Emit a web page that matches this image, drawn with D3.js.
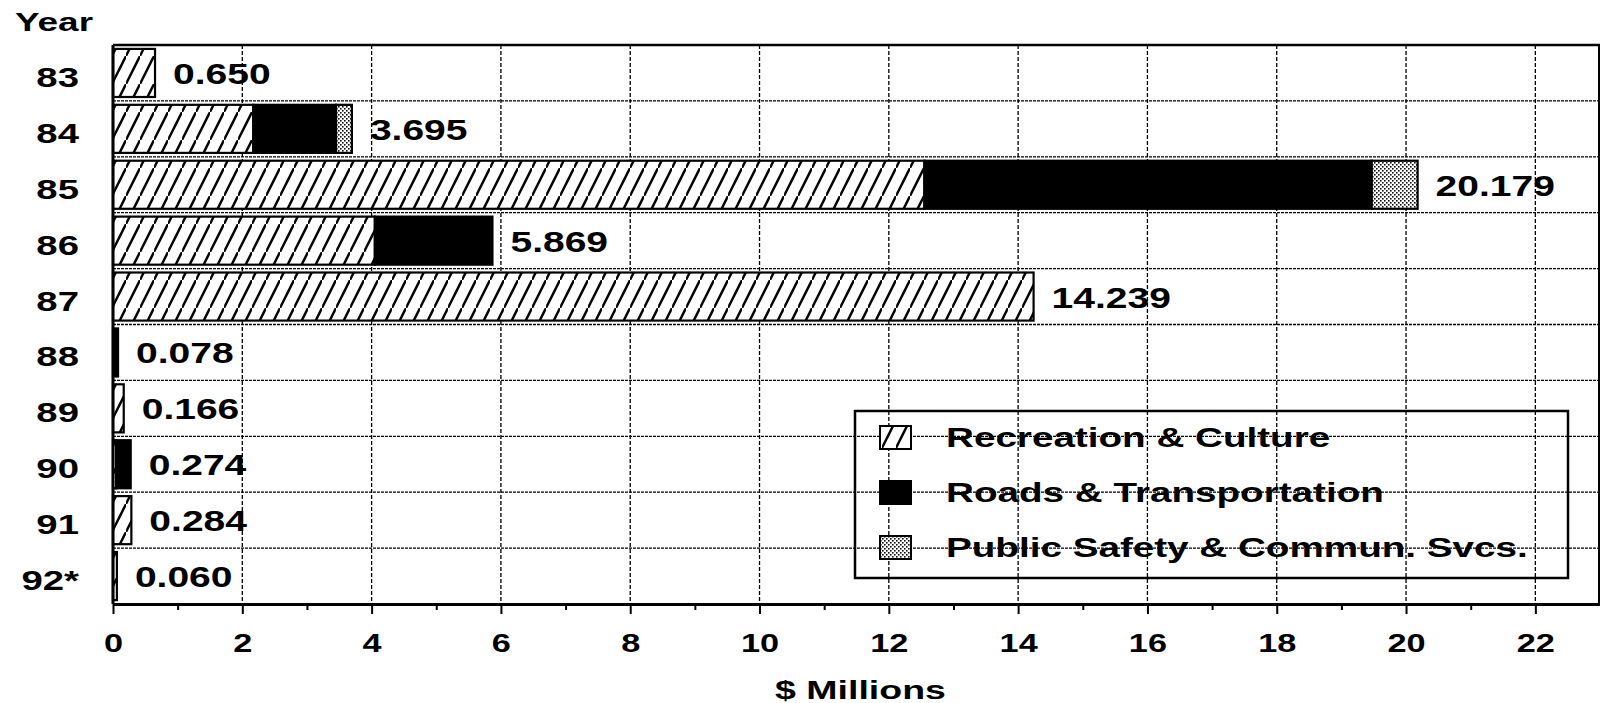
<!DOCTYPE html>
<html>
<head>
<meta charset="utf-8">
<script src="https://cdnjs.cloudflare.com/ajax/libs/d3/7.8.5/d3.min.js"></script>
<style>
  body { margin: 0; background: #fff; }
  svg { display: block; }
  text { font-family: "Liberation Sans", Arial, Helvetica, sans-serif; font-weight: bold; fill: #000; }
</style>
</head>
<body>
<div id="chart"></div>
<script>
// data ($ millions, stacked)
var years = ["83", "84", "85", "86", "87", "88", "89", "90", "91", "92*"];
var recreation = [0.650, 2.170, 12.550, 4.050, 14.239, 0, 0.166, 0.050, 0.284, 0.060];
var roads      = [0,     1.280, 6.920,  1.819, 0,      0.078, 0, 0.224, 0, 0];
var safety     = [0,     0.245, 0.709,  0,     0,      0, 0, 0, 0, 0];
var seriesNames = ["Recreation & Culture", "Roads & Transportation", "Public Safety & Commun. Svcs."];
var majorTicks = [0, 2, 4, 6, 8, 10, 12, 14, 16, 18, 20, 22];
var minorTicks = [1, 3, 5, 7, 9, 11, 13, 15, 17, 19, 21];

var W = 1600, H = 703;
var plot = {left: 113, top: 45, right: 1600, bottom: 604};

var svg = d3.select("#chart").append("svg")
    .attr("width", W)
    .attr("height", H);

// patterns: diagonal hatch and gray stipple
var defs = svg.append("defs");
var hatch = defs.append("pattern")
    .attr("id", "hatch")
    .attr("patternUnits", "userSpaceOnUse")
    .attr("width", 14).attr("height", 28);
hatch.append("rect").attr("width", 14).attr("height", 28).attr("fill", "#fff");
hatch.append("line")
    .attr("x1", 0).attr("y1", 28).attr("x2", 14).attr("y2", 0)
    .attr("stroke", "#000").attr("stroke-width", 2.4);

var stipple = defs.append("pattern")
    .attr("id", "stipple")
    .attr("patternUnits", "userSpaceOnUse")
    .attr("width", 4).attr("height", 4);
stipple.append("rect").attr("width", 4).attr("height", 4).attr("fill", "#fff");
stipple.append("rect").attr("width", 1.6).attr("height", 1.6).attr("fill", "#111");
stipple.append("rect").attr("x", 2).attr("y", 2).attr("width", 1.6).attr("height", 1.6).attr("fill", "#111");

var fills = ["url(#hatch)", "#000", "url(#stipple)"];

var x = d3.scaleLinear()
    .domain([0, 23])
    .range([plot.left, plot.right]);

var y = d3.scaleBand()
    .domain(years)
    .range([plot.top, plot.bottom])
    .paddingInner(0.14)
    .paddingOuter(0.07);

// helper for the wide, stretched lettering of the original
function wideText(g, px, py, str, size, sx, anchor) {
    return g.append("text")
        .attr("transform", "translate(" + px + "," + py + ") scale(" + sx + ",1)")
        .attr("text-anchor", anchor || "start")
        .style("font-size", size + "px")
        .text(str);
}

// vertical grid
svg.append("g")
    .attr("class", "vgrid")
    .selectAll("line")
    .data(majorTicks.slice(1))
    .enter().append("line")
    .attr("x1", function(d) { return x(d); })
    .attr("x2", function(d) { return x(d); })
    .attr("y1", plot.top)
    .attr("y2", plot.bottom)
    .attr("stroke", "#000")
    .attr("stroke-width", 1.3)
    .attr("stroke-dasharray", "4,2");

// horizontal grid at row boundaries
var bounds = years.slice(1).map(function(d) {
    return y(d) - y.step() * y.paddingInner() / 2;
});
svg.append("g")
    .attr("class", "hgrid")
    .selectAll("line")
    .data(bounds)
    .enter().append("line")
    .attr("x1", plot.left)
    .attr("x2", plot.right)
    .attr("y1", function(d) { return d; })
    .attr("y2", function(d) { return d; })
    .attr("stroke", "#000")
    .attr("stroke-width", 1.3)
    .attr("stroke-dasharray", "3,1");

// stacked bars
var stackData = years.map(function(yr, i) {
    return {year: yr, rec: recreation[i], roads: roads[i], safety: safety[i]};
});
var stack = d3.stack().keys(["rec", "roads", "safety"]);
var layers = stack(stackData);

svg.append("g")
    .selectAll("g")
    .data(layers)
    .enter().append("g")
    .attr("fill", function(d, i) { return fills[i]; })
    .selectAll("rect")
    .data(function(d) { return d.filter(function(s) { return s[1] - s[0] > 0; }); })
    .enter().append("rect")
    .attr("x", function(d) { return x(d[0]); })
    .attr("y", function(d) { return y(d.data.year); })
    .attr("width", function(d) { return x(d[1]) - x(d[0]); })
    .attr("height", y.bandwidth())
    .attr("stroke", "#000")
    .attr("stroke-width", 2.2);

// total labels
var fmt = d3.format(".3f");
var labels = svg.append("g");
stackData.forEach(function(d) {
    var total = d.rec + d.roads + d.safety;
    wideText(labels, x(total) + 18, y(d.year) + y.bandwidth() / 2 + 11, fmt(total), 30, 1.3);
});

// frame
svg.append("line")
    .attr("x1", plot.left).attr("x2", plot.right)
    .attr("y1", plot.top).attr("y2", plot.top)
    .attr("stroke", "#000").attr("stroke-width", 2.5);
svg.append("line")
    .attr("x1", plot.right - 1).attr("x2", plot.right - 1)
    .attr("y1", plot.top).attr("y2", plot.bottom)
    .attr("stroke", "#000").attr("stroke-width", 2);
svg.append("line")
    .attr("x1", plot.left).attr("x2", plot.left)
    .attr("y1", plot.top).attr("y2", plot.bottom)
    .attr("stroke", "#000").attr("stroke-width", 3);

// x axis, major + minor ticks
var xAxis = svg.append("g")
    .attr("transform", "translate(0," + plot.bottom + ")")
    .call(d3.axisBottom(x).tickValues(majorTicks).tickSize(10).tickSizeOuter(0).tickPadding(20));
xAxis.select(".domain").attr("stroke-width", 3);
xAxis.selectAll(".tick line").attr("stroke-width", 2);
xAxis.selectAll(".tick text")
    .attr("transform", "scale(1.32,1)")
    .style("font-size", "26px")
    .style("font-family", "'Liberation Sans', Arial, sans-serif")
    .style("font-weight", "bold");

svg.append("g")
    .attr("transform", "translate(0," + plot.bottom + ")")
    .call(d3.axisBottom(x).tickValues(minorTicks).tickSize(6).tickFormat(""))
    .call(function(g) { g.select(".domain").remove(); })
    .selectAll(".tick line").attr("stroke-width", 2);

// year labels
var yLab = svg.append("g");
years.forEach(function(yr) {
    wideText(yLab, 79, y(yr) + y.bandwidth() / 2 + 14, yr, 27, 1.42, "end");
});
wideText(svg, 15, 31, "Year", 26, 1.42);

// axis title
wideText(svg, (plot.left + plot.right) / 2 + 4, 699, "$ Millions", 25, 1.5, "middle");

// legend (transparent, grid shows through)
var legend = svg.append("g");
legend.append("rect")
    .attr("x", 855).attr("y", 411)
    .attr("width", 713).attr("height", 167)
    .attr("fill", "none")
    .attr("stroke", "#000")
    .attr("stroke-width", 2.5);

seriesNames.forEach(function(name, i) {
    var cy = 437 + i * 55;
    legend.append("rect")
        .attr("x", 880).attr("y", cy - 11)
        .attr("width", 31).attr("height", 23)
        .attr("fill", fills[i])
        .attr("stroke", "#000")
        .attr("stroke-width", 2);
    wideText(legend, 946, cy + 10, name, 28, 1.38);
});
</script>
</body>
</html>
